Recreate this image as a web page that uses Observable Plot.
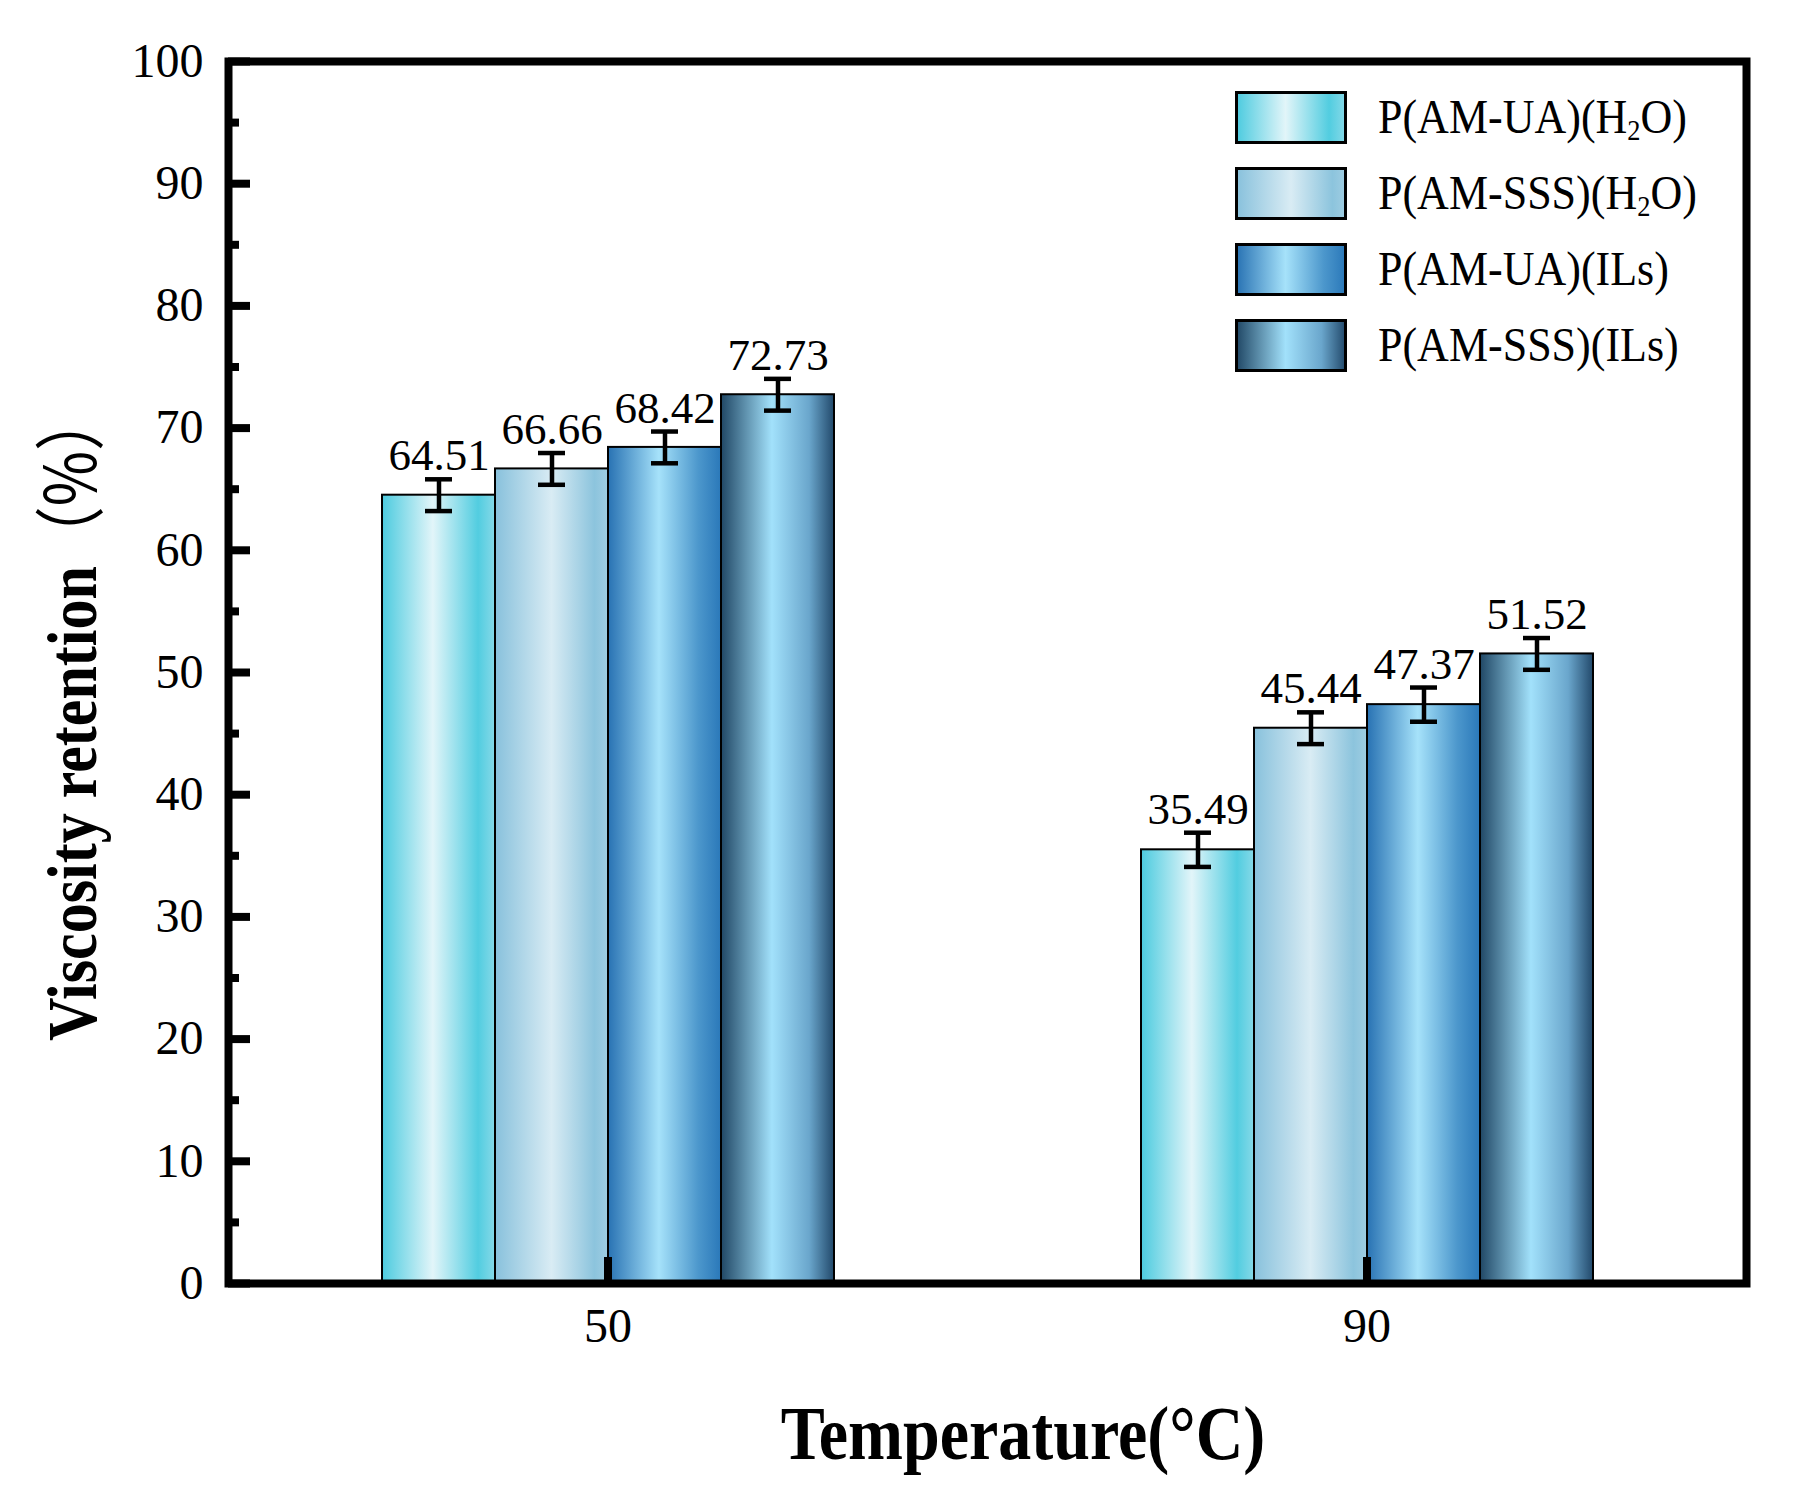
<!DOCTYPE html>
<html><head><meta charset="utf-8">
<script src="https://cdn.jsdelivr.net/npm/d3@7"></script>
<script src="https://cdn.jsdelivr.net/npm/@observablehq/plot@0.6"></script>
<style>
html,body{margin:0;padding:0;background:#fff;}
#wrap{position:relative;width:1805px;height:1507px;font-family:"Liberation Serif","Times New Roman",serif;color:#000;}
#wrap svg{display:block;}
.ytitle{position:absolute;left:69px;top:716px;transform:translate(-50%,-50%) rotate(-90deg) scale(1,1.18);white-space:nowrap;font-weight:bold;font-size:60px;line-height:1;}
.ytitle .cjk{font-family:"Noto Sans CJK SC",sans-serif;font-weight:normal;}
.xtitle{position:absolute;left:1023px;top:1433px;transform:translate(-50%,-50%) scale(1,1.16);white-space:nowrap;font-weight:bold;font-size:66px;line-height:1;}
.legend{position:absolute;left:1235px;top:79px;}
.legend .row{display:flex;align-items:center;height:76px;}
.legend svg{margin-right:31px;}
.legend span{font-size:44px;line-height:1;white-space:nowrap;display:inline-block;transform:scale(1,1.12);}
.legend sub{font-size:0.6em;vertical-align:-0.25em;line-height:0;}
</style></head><body><div id="wrap"></div>
<script>
// ---- data ----
const temperatures = ["50", "90"];
const seriesNames = ["P(AM-UA)(H2O)", "P(AM-SSS)(H2O)", "P(AM-UA)(ILs)", "P(AM-SSS)(ILs)"];
const retention50 = [64.51, 66.66, 68.42, 72.73];
const retention90 = [35.49, 45.44, 47.37, 51.52];
const error50 = [1.3, 1.3, 1.3, 1.3];
const error90 = [1.4, 1.3, 1.4, 1.3];
const yMajorTicks = [0, 10, 20, 30, 40, 50, 60, 70, 80, 90, 100];
const yMinorTicks = [5, 15, 25, 35, 45, 55, 65, 75, 85, 95];

// ---- style: horizontal gradients per series ----
const gradientStops = [
  [[0, "#4ccbdf"], [0.45, "#e2f5f9"], [0.85, "#52cde0"], [1, "#86d9e8"]],
  [[0, "#88c1dc"], [0.5, "#d9ecf4"], [0.88, "#8cc4dd"], [1, "#9fcde2"]],
  [[0, "#2872b3"], [0.45, "#a6e2fa"], [0.8, "#4c97cc"], [1, "#2a78b9"]],
  [[0, "#204765"], [0.45, "#a2e1fb"], [0.78, "#6aa6cc"], [1, "#22496b"]]
];
const gradIds = seriesNames.map((_, i) => "grad" + i);

const values = [retention50, retention90];
const errors = [error50, error90];
const table = [];
temperatures.forEach((t, i) => seriesNames.forEach((s, j) =>
  table.push({temp: t, series: s, value: values[i][j], err: errors[i][j]})));

const chart = Plot.plot({
  width: 1805, height: 1507,
  marginTop: 61, marginRight: 59, marginBottom: 224, marginLeft: 228,
  style: {fontFamily: '"Liberation Serif", "Times New Roman", serif', background: "#fff", color: "#000"},
  fx: {domain: temperatures, paddingInner: 0, paddingOuter: 0, label: null, axis: null},
  x: {domain: seriesNames, paddingInner: 0, paddingOuter: 1.336, axis: null},
  y: {domain: [0, 100], label: null},
  color: {domain: seriesNames, range: gradIds.map(id => `url(#${id})`)},
  marks: [
    Plot.barY(table, {fx: "temp", x: "series", y: "value", fill: "series", stroke: "#000", strokeWidth: 2}),
    Plot.ruleX(table, {fx: "temp", x: "series", y1: d => d.value - d.err, y2: d => d.value + d.err, stroke: "#000", strokeWidth: 4.5}),
    Plot.tickY(table, {fx: "temp", x: "series", y: d => d.value + d.err, stroke: "#000", strokeWidth: 4.5, insetLeft: 43, insetRight: 43}),
    Plot.tickY(table, {fx: "temp", x: "series", y: d => d.value - d.err, stroke: "#000", strokeWidth: 4.5, insetLeft: 43, insetRight: 43}),
    Plot.text(table, {fx: "temp", x: "series", y: d => d.value + d.err, text: d => d.value.toFixed(2),
      lineAnchor: "bottom", dy: -9, fontSize: 45, fill: "#000"}),
    Plot.axisY({ticks: yMajorTicks, tickSize: -22, strokeWidth: 8, text: null}),
    Plot.axisY({ticks: yMinorTicks, tickSize: -11, strokeWidth: 8, text: null}),
    Plot.axisY({ticks: yMajorTicks, tickSize: 0, tickPadding: 25, fontSize: 48, fill: "#000"}),
    Plot.axisFx({anchor: "bottom", tickSize: -26, strokeWidth: 8, text: null}),
    Plot.axisFx({anchor: "bottom", tickSize: 0, tickPadding: 24, fontSize: 48, fill: "#000"}),
    Plot.frame({facet: "super", stroke: "#000", strokeWidth: 8})
  ]
});

// gradient defs
const NS = "http://www.w3.org/2000/svg";
const defs = document.createElementNS(NS, "defs");
gradientStops.forEach((stops, i) => {
  const g = document.createElementNS(NS, "linearGradient");
  g.setAttribute("id", gradIds[i]);
  g.setAttribute("x1", "0"); g.setAttribute("x2", "1"); g.setAttribute("y1", "0"); g.setAttribute("y2", "0");
  stops.forEach(([o, c]) => {
    const s = document.createElementNS(NS, "stop");
    s.setAttribute("offset", o); s.setAttribute("stop-color", c);
    g.appendChild(s);
  });
  defs.appendChild(g);
});
chart.insertBefore(defs, chart.firstChild);

const wrap = document.getElementById("wrap");
wrap.appendChild(chart);

// titles
const yt = document.createElement("div");
yt.className = "ytitle";
yt.innerHTML = 'Viscosity retention<span class="cjk">（%）</span>';
wrap.appendChild(yt);
const xt = document.createElement("div");
xt.className = "xtitle";
xt.textContent = "Temperature(°C)";
wrap.appendChild(xt);

// legend
const lg = document.createElement("div");
lg.className = "legend";
seriesNames.forEach((name, i) => {
  const row = document.createElement("div");
  row.className = "row";
  row.innerHTML = `<svg width="112" height="53"><rect x="1.5" y="1.5" width="109" height="50" fill="url(#${gradIds[i]})" stroke="#000" stroke-width="3"/></svg>` +
    `<span>${name.replace("H2O", "H<sub>2</sub>O")}</span>`;
  lg.appendChild(row);
});
wrap.appendChild(lg);
</script></body></html>
